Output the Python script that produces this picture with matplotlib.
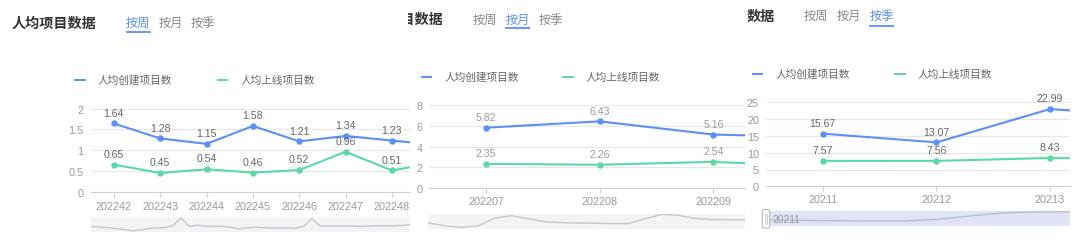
import matplotlib
matplotlib.use("Agg")
import matplotlib.pyplot as plt
from matplotlib.patches import FancyBboxPatch

# ---------------- data ----------------
title_text = "人均项目数据"
tab_labels = ["按周", "按月", "按季"]
series_names = ["人均创建项目数", "人均上线项目数"]

week_cats = ["202242", "202243", "202244", "202245", "202246", "202247", "202248", "202249"]
week_create = [1.64, 1.28, 1.15, 1.58, 1.21, 1.34, 1.23, 1.12]
week_online = [0.65, 0.45, 0.54, 0.46, 0.52, 0.96, 0.51, 0.71]
week_yticks = [0, 0.5, 1, 1.5, 2]
week_ylabels = ["0", "0.5", "1", "1.5", "2"]

month_cats = ["202207", "202208", "202209", "202210"]
month_create = [5.82, 6.43, 5.16, 4.90]
month_online = [2.35, 2.26, 2.54, 2.06]
month_yticks = [0, 2, 4, 6, 8]
month_ylabels = ["0", "2", "4", "6", "8"]

quarter_cats = ["20211", "20212", "20213", "20214"]
quarter_create = [15.67, 13.07, 22.99, 20.7]
quarter_online = [7.57, 7.56, 8.43, 8.0]
quarter_yticks = [0, 5, 10, 15, 20, 25]
quarter_ylabels = ["0", "5", "10", "15", "20", "25"]

# overview (data-zoom slider) silhouettes
week_overview = [16, 14, 12, 9, 6, 2, 4, 9, 11, 12, 18, 43, 16, 20, 16, 16, 16, 14, 8, 11,
                 13, 12, 11, 11, 11, 10, 16, 41, 17, 17, 17, 17, 17, 16, 17, 18, 18, 18, 19, 21]
month_overview = [17, 8, 3, 8, 32, 40, 30, 21, 18, 17, 16, 15, 15, 30, 44, 41, 31, 28, 27, 27]
quarter_overview = [18, 17, 16, 15, 15, 20, 31, 41, 44, 44]
slider_start_label = "20211"

# ---------------- style ----------------
W, H = 1080, 251
BLUE = "#5B8FF9"
GREEN = "#5AD8A6"
CJK = ["Noto Sans CJK SC", "DejaVu Sans"]
NUM = ["Liberation Sans", "DejaVu Sans"]

fig = plt.figure(figsize=(W / 100, H / 100), dpi=100)
fig.patch.set_facecolor("white")


def px_rect(x0, x1, ytop, ybot):
    return [x0 / W, 1 - ybot / H, (x1 - x0) / W, (ybot - ytop) / H]


panels = [
    dict(cats=week_cats, a=week_create, b=week_online, yt=week_yticks, yl=week_ylabels,
         ax=(90.7, 410.0, 109.5, 192.7), xr=(-0.5, 6.39), tpad=3.4, lblc="#666666",
         ov=week_overview, slider=(91, 410, 218, 232.7), sfill="#f3f4f6", sline="#c4c7cc",
         region=(0, 409), title_right=None, title_left=11.7, title_y=23.3,
         tabs=[126, 158.7, 190.7], tab_y=23, active=0, ul_y=33,
         leg=(74, 216.7, 81), handle=False),
    dict(cats=month_cats, a=month_create, b=month_online, yt=month_yticks, yl=month_ylabels,
         ax=(429.3, 745.0, 106.0, 189.3), xr=(-0.5, 2.278), tpad=2.0, lblc="#9a9a9a",
         ov=month_overview, slider=(428.3, 745, 214.7, 229.7), sfill="#f3f4f6", sline="#c4c7cc",
         region=(408, 745.5), title_right=443.5, title_left=None, title_y=20,
         tabs=[472.7, 505.3, 538.3], tab_y=20.7, active=1, ul_y=29.3,
         leg=(420.7, 562.3, 77.7), handle=False),
    dict(cats=quarter_cats, a=quarter_create, b=quarter_online, yt=quarter_yticks, yl=quarter_ylabels,
         ax=(766.0, 1070.0, 103.3, 187.3), xr=(-0.5, 2.175), tpad=1.8, lblc="#666666",
         ov=quarter_overview, slider=(763, 1070, 212.3, 227), sfill="#dfe4f7", sline="#b6bdd6",
         region=(745.5, 1080), title_right=None, title_left=746.7, title_y=16.7,
         tabs=[804, 836.7, 869.3], tab_y=16.7, active=2, ul_y=26.7,
         leg=(751.7, 894.3, 75), handle=True),
]

for idx, p in enumerate(panels):
    x0, x1, yt, yb = p["ax"]
    ax = fig.add_axes(px_rect(x0, x1, yt, yb))
    n = len(p["cats"])
    xs = list(range(n))
    ax.plot(xs, p["a"], color=BLUE, lw=1.5, marker="o", ms=3.6, zorder=3)
    ax.plot(xs, p["b"], color=GREEN, lw=1.5, marker="o", ms=3.6, zorder=3)
    ax.set_yticks(p["yt"])
    ax.set_yticklabels(p["yl"])
    ax.set_xticks(xs)
    ax.set_xticklabels(p["cats"])
    ax.set_xlim(*p["xr"])
    ax.set_ylim(p["yt"][0], p["yt"][-1])
    ax.grid(axis="y", color="#e6e6e6", lw=0.8)
    ax.set_axisbelow(True)
    for s in ("top", "right", "left"):
        ax.spines[s].set_visible(False)
    ax.spines["bottom"].set_color("#cfcfcf")
    ax.spines["bottom"].set_linewidth(0.8)
    ax.tick_params(axis="y", length=0, pad=5, labelsize=7.8, labelcolor="#999999")
    ax.tick_params(axis="x", length=3.6, width=0.8, color="#cfcfcf", pad=p["tpad"],
                   labelsize=7.8, labelcolor="#999999")
    for lab in ax.get_xticklabels() + ax.get_yticklabels():
        lab.set_family(NUM)
    ax.set_facecolor("none")
    lo, hi = p["xr"]
    for vals in (p["a"], p["b"]):
        for i, v in enumerate(vals):
            if lo <= i <= hi:
                ax.annotate(f"{v:.2f}", (i, v), xytext=(0, 7.8), textcoords="offset points",
                            ha="center", va="center", fontsize=7.6, color=p["lblc"],
                            family=NUM, zorder=4)

    # overview slider
    sx0, sx1, sy0, sy1 = p["slider"]
    sax = fig.add_axes(px_rect(sx0, sx1, sy0, sy1))
    sax.set_facecolor(p["sfill"])
    for s in sax.spines.values():
        s.set_visible(False)
    sax.set_xticks([])
    sax.set_yticks([])
    m = len(p["ov"])
    sax.plot(range(m), p["ov"], color=p["sline"], lw=1.0)
    if p["handle"]:
        off = (770 - sx0) / (sx1 - sx0)
        sax.set_xlim(-off / (1 - off) * (m - 1), m - 1)
    else:
        sax.set_xlim(0, m - 1)
    sax.set_ylim(-1, 46)

    # header overlay (title, tabs, legend)
    rx0, rx1 = p["region"]
    hax = fig.add_axes(px_rect(rx0, rx1, 0, H))
    hax.set_xlim(rx0, rx1)
    hax.set_ylim(H, 0)
    hax.axis("off")
    hax.set_zorder(-1)
    if p["title_right"] is not None:
        hax.text(p["title_right"], p["title_y"], title_text, ha="right", va="center",
                 fontsize=10.2, fontweight="bold", color="#333333", family=CJK, clip_on=True)
    else:
        t = title_text if idx == 0 else title_text[-2:]
        hax.text(p["title_left"], p["title_y"], t, ha="left", va="center",
                 fontsize=10.2, fontweight="bold", color="#333333", family=CJK, clip_on=True)
    for k, (tx, lab) in enumerate(zip(p["tabs"], tab_labels)):
        col = BLUE if k == p["active"] else "#888888"
        hax.text(tx, p["tab_y"], lab, ha="left", va="center", fontsize=8.8,
                 color=col, family=CJK, clip_on=True)
        if k == p["active"]:
            hax.plot([tx, tx + 24.5], [p["ul_y"], p["ul_y"]], color=BLUE, lw=1.3,
                     solid_capstyle="butt")
    lb, lg, ly = p["leg"]
    for lx, col, name in ((lb, BLUE, series_names[0]), (lg, GREEN, series_names[1])):
        hax.plot([lx, lx + 11.7], [ly, ly], color=col, lw=1.4, solid_capstyle="butt")
        hax.text(lx + 23.5, ly, name, ha="left", va="center", fontsize=7.7,
                 color="#666666", family=CJK, clip_on=True)
    if p["handle"]:
        hax.add_patch(FancyBboxPatch((762.3, 210.5), 7.4, 18.5,
                                     boxstyle="round,pad=0,rounding_size=1.5",
                                     fc="white", ec="#b8b8b8", lw=0.8, zorder=5))
        for hx in (765.2, 766.9):
            hax.plot([hx, hx], [214.5, 225], color="#c0c0c0", lw=0.6, zorder=6)
        hax.text(772.3, 220, slider_start_label, ha="left", va="center", fontsize=7.4,
                 color="#999999", family=NUM, zorder=6)
        hax.set_zorder(5)
        hax.patch.set_alpha(0)

fig.savefig("out.png", dpi=100, facecolor="white")
